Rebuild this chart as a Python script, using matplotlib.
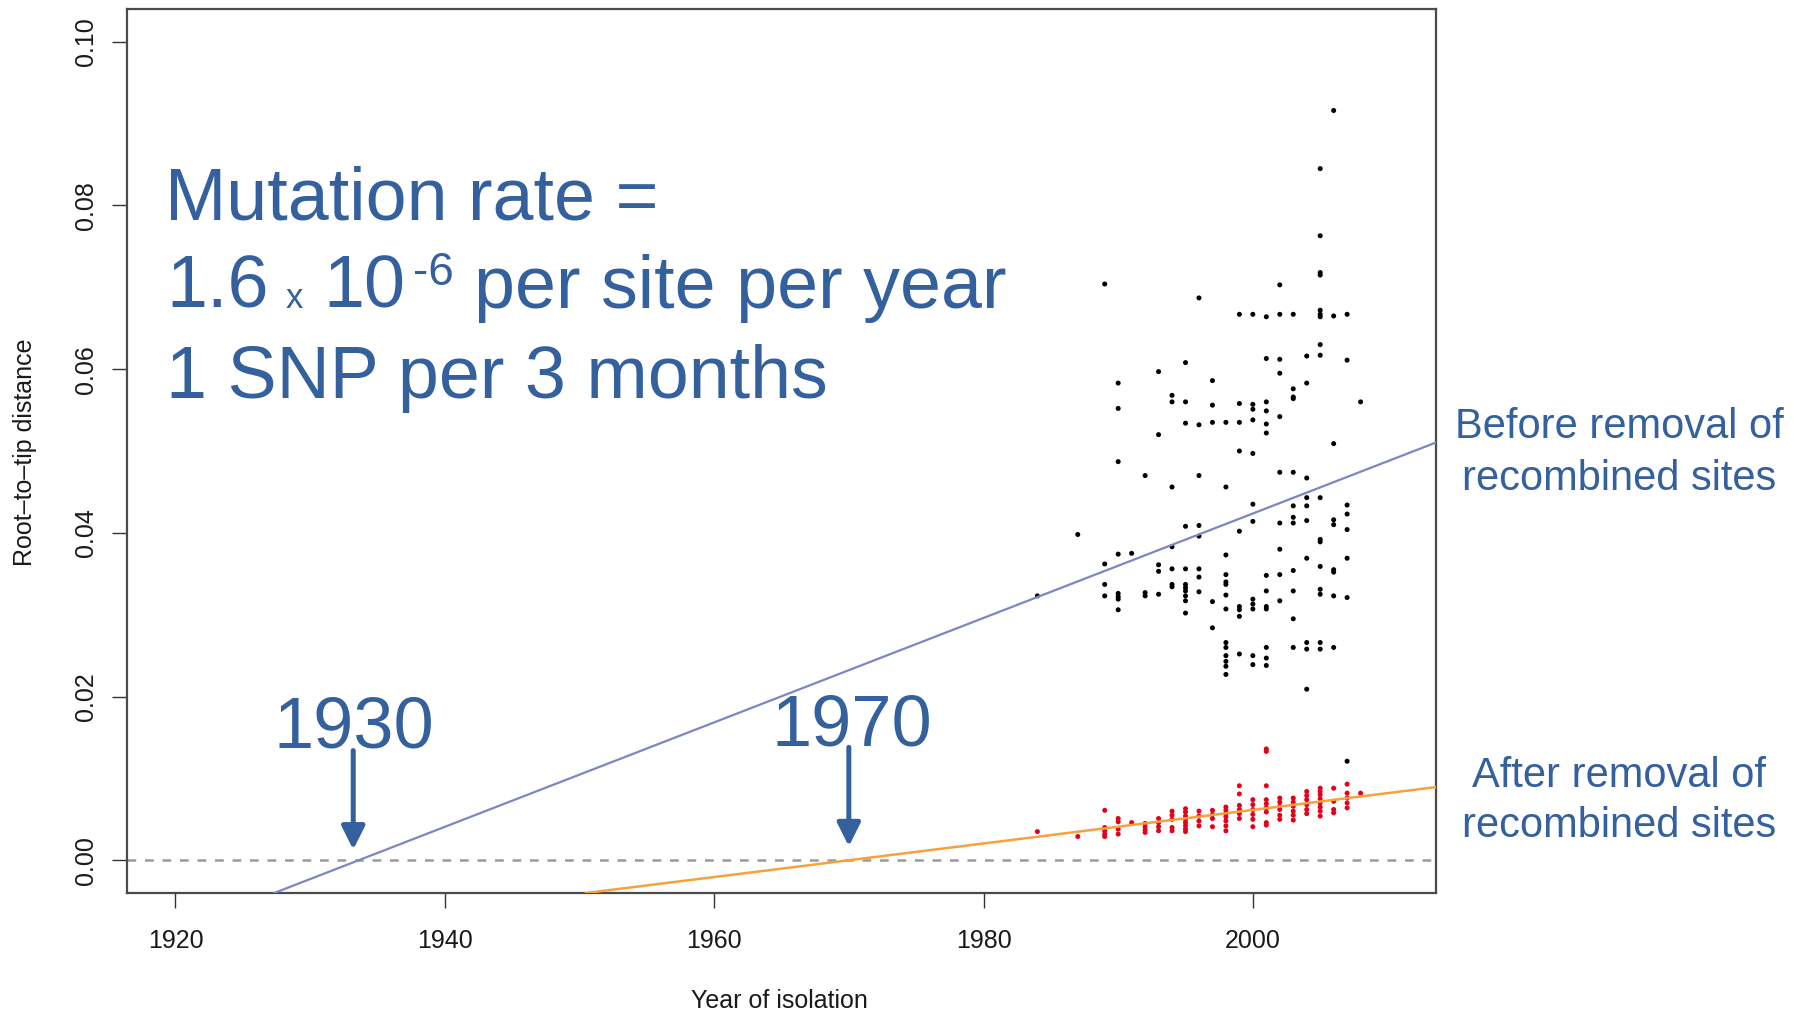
import matplotlib
matplotlib.use("Agg")
import matplotlib.pyplot as plt
import numpy as np

plt.rcParams["font.family"] = ["Liberation Sans", "DejaVu Sans"]

# Root-to-tip distances per isolate, before removal of recombined sites
before_year = (
    [1984, 1987]
    + [1989] * 4 + [1990] * 8 + [1991] + [1992] * 3 + [1993] * 5 + [1994] * 7
    + [1995] * 11 + [1996] * 8 + [1997] * 5 + [1998] * 14 + [1999] * 9
    + [2000] * 12 + [2001] * 13 + [2002] * 10 + [2003] * 12 + [2004] * 10
    + [2005] * 17 + [2006] * 9 + [2007] * 8 + [2008]
)
before_dist = [
    0.0323, 0.0398,
    0.0704, 0.0362, 0.0337, 0.0323,
    0.0583, 0.0552, 0.0487, 0.0374, 0.0326, 0.0322, 0.0319, 0.0306,
    0.0375,
    0.0470, 0.0327, 0.0323,
    0.0597, 0.0520, 0.0361, 0.0353, 0.0325,
    0.0568, 0.0560, 0.0456, 0.0383, 0.0356, 0.0337, 0.0334,
    0.0608, 0.0560, 0.0534, 0.0408, 0.0356, 0.0337, 0.0333, 0.0329, 0.0323, 0.0317, 0.0302,
    0.0687, 0.0532, 0.0470, 0.0409, 0.0396, 0.0356, 0.0346, 0.0328,
    0.0586, 0.0556, 0.0535, 0.0316, 0.0284,
    0.0535, 0.0456, 0.0373, 0.0349, 0.0340, 0.0337, 0.0324, 0.0307, 0.0266, 0.0260, 0.0250, 0.0243, 0.0237, 0.0227,
    0.0667, 0.0558, 0.0535, 0.0500, 0.0402, 0.0310, 0.0306, 0.0298, 0.0252,
    0.0667, 0.0557, 0.0551, 0.0538, 0.0497, 0.0435, 0.0414, 0.0319, 0.0313, 0.0307, 0.0250, 0.0239,
    0.0664, 0.0613, 0.0560, 0.0549, 0.0533, 0.0522, 0.0348, 0.0329, 0.0310, 0.0307, 0.0260, 0.0247, 0.0238,
    0.0703, 0.0667, 0.0612, 0.0595, 0.0542, 0.0474, 0.0412, 0.0380, 0.0349, 0.0317,
    0.0667, 0.0576, 0.0566, 0.0564, 0.0474, 0.0433, 0.0419, 0.0412, 0.0354, 0.0329, 0.0295, 0.0260,
    0.0616, 0.0583, 0.0467, 0.0443, 0.0433, 0.0415, 0.0369, 0.0266, 0.0258, 0.0209,
    0.0845, 0.0763, 0.0718, 0.0715, 0.0672, 0.0667, 0.0664, 0.0630, 0.0617, 0.0443, 0.0392, 0.0389, 0.0359, 0.0331, 0.0325, 0.0266, 0.0258,
    0.0916, 0.0665, 0.0509, 0.0416, 0.0410, 0.0355, 0.0352, 0.0323, 0.0260,
    0.0667, 0.0611, 0.0434, 0.0423, 0.0404, 0.0369, 0.0321, 0.0121,
    0.0560,
]

# Root-to-tip distances after removal of recombined sites
after_year = (
    [1984, 1987]
    + [1989] * 5 + [1990] * 4 + [1991] + [1992] * 4 + [1993] * 4 + [1994] * 5
    + [1995] * 8 + [1996] * 4 + [1997] * 4 + [1998] * 7 + [1999] * 6
    + [2000] * 6 + [2001] * 9 + [2002] * 6 + [2003] * 6 + [2004] * 6
    + [2005] * 8 + [2006] * 4 + [2007] * 5 + [2008]
)
after_dist = [
    0.0035, 0.0029,
    0.0061, 0.0040, 0.0036, 0.0032, 0.0029,
    0.0051, 0.0047, 0.0038, 0.0032,
    0.0046,
    0.0045, 0.0041, 0.0037, 0.0034,
    0.0051, 0.0046, 0.0041, 0.0036,
    0.0060, 0.0055, 0.0050, 0.0040, 0.0036,
    0.0063, 0.0059, 0.0054, 0.0050, 0.0046, 0.0042, 0.0038, 0.0035,
    0.0060, 0.0054, 0.0048, 0.0042,
    0.0061, 0.0056, 0.0051, 0.0041,
    0.0065, 0.0061, 0.0057, 0.0053, 0.0048, 0.0042, 0.0036,
    0.0091, 0.0081, 0.0067, 0.0062, 0.0057, 0.0051,
    0.0074, 0.0068, 0.0062, 0.0056, 0.0050, 0.0041,
    0.0136, 0.0133, 0.0091, 0.0074, 0.0069, 0.0064, 0.0059, 0.0046, 0.0043,
    0.0076, 0.0071, 0.0066, 0.0062, 0.0055, 0.0050,
    0.0076, 0.0071, 0.0066, 0.0060, 0.0055, 0.0049,
    0.0084, 0.0079, 0.0074, 0.0068, 0.0062, 0.0057,
    0.0088, 0.0084, 0.0080, 0.0075, 0.0070, 0.0065, 0.0060, 0.0054,
    0.0088, 0.0072, 0.0062, 0.0058,
    0.0093, 0.0082, 0.0076, 0.0070, 0.0064,
    0.0082,
]

# Regression lines: year where the root-to-tip distance reaches zero, and slope per year
before_root, before_slope = 1933.6, 0.000638
after_root, after_slope = 1970.0, 0.000205

x_ticks = [1920, 1940, 1960, 1980, 2000]
y_ticks = [0.00, 0.02, 0.04, 0.06, 0.08, 0.10]

W, H = 1794, 1011
BLUE_TXT = "#34609E"


def px(x, y):
    """Figure-pixel position (origin top-left) to figure fraction."""
    return x / W, 1 - y / H


fig = plt.figure(figsize=(W / 100, H / 100), dpi=100)
ax = fig.add_axes([127 / W, 1 - 893 / H, (1436 - 127) / W, (893 - 9) / H])

# 4% padding on both axes, as in base R plots
ax.set_xlim(1920 - 0.04 * 90, 2010 + 0.04 * 90)
ax.set_ylim(-0.004, 0.104)

ax.scatter(before_year, before_dist, s=13, color="black", edgecolors="none", zorder=2)
ax.scatter(after_year, after_dist, s=13, color="#E4001A", edgecolors="none", zorder=2)

ax.axhline(0, color="#9A9A9A", lw=1.8, ls=(0, (3.5, 3.5)), zorder=1)
ax.axline((before_root, 0), slope=before_slope, color="#7D86C4", lw=1.6, zorder=3)
ax.axline((after_root, 0), slope=after_slope, color="#F6A13E", lw=1.8, zorder=3)

# Axes frame and ticks
for side in ax.spines.values():
    side.set_color("#4A4A4A")
    side.set_linewidth(1.6)
ax.set_xticks(x_ticks)
ax.set_xticklabels([str(t) for t in x_ticks])
ax.set_yticks(y_ticks)
ax.set_yticklabels([f"{t:.2f}" for t in y_ticks], rotation=90, va="center")
ax.tick_params(axis="both", direction="out", length=11, width=1.0, color="#333333",
               labelsize=18, labelcolor="#1A1A1A")
ax.tick_params(axis="x", pad=15)
ax.tick_params(axis="y", pad=10)

fig.text(*px(779, 1008), "Year of isolation", ha="center", va="baseline",
         fontsize=18, color="#1A1A1A")
fig.text(*px(25, 452), "Root\u2013to\u2013tip distance", ha="center", va="center",
         rotation=90, fontsize=18, color="#1A1A1A")

# Mutation rate annotation
big = 53
fig.text(*px(165, 219), "Mutation rate =", fontsize=big, color=BLUE_TXT, va="baseline")
fig.text(*px(166, 308), "1.6", fontsize=big, color=BLUE_TXT, va="baseline")
fig.text(*px(286, 308), "x", fontsize=25, color=BLUE_TXT, va="baseline")
fig.text(*px(323, 308), "10", fontsize=big, color=BLUE_TXT, va="baseline")
fig.text(*px(413, 285), "-6", fontsize=33, color=BLUE_TXT, va="baseline")
fig.text(*px(474, 308), "per site per year", fontsize=big, color=BLUE_TXT, va="baseline")
fig.text(*px(166, 398), "1 SNP per 3 months", fontsize=big, color=BLUE_TXT, va="baseline")

# Root-year labels with arrows down to the zero line
fig.text(*px(354, 747), "1930", fontsize=52, color=BLUE_TXT, ha="center", va="baseline")
fig.text(*px(852, 745), "1970", fontsize=52, color=BLUE_TXT, ha="center", va="baseline")
arrow_style = dict(arrowstyle="-|>,head_length=0.7,head_width=0.35", color=BLUE_TXT,
                   lw=3.6, mutation_scale=20, shrinkA=0, shrinkB=0)
ax.annotate("", xy=(1933.2, 0.0013), xytext=(1933.2, 0.0134), arrowprops=arrow_style)
ax.annotate("", xy=(1970.0, 0.0017), xytext=(1970.0, 0.0138), arrowprops=arrow_style)

# Line captions on the right
side = 30
fig.text(*px(1619, 438), "Before removal of", fontsize=side, color=BLUE_TXT,
         ha="center", va="baseline")
fig.text(*px(1619, 490), "recombined sites", fontsize=side, color=BLUE_TXT,
         ha="center", va="baseline")
fig.text(*px(1619, 787), "After removal of", fontsize=side, color=BLUE_TXT,
         ha="center", va="baseline")
fig.text(*px(1619, 837), "recombined sites", fontsize=side, color=BLUE_TXT,
         ha="center", va="baseline")

fig.savefig("out.png", dpi=100)
